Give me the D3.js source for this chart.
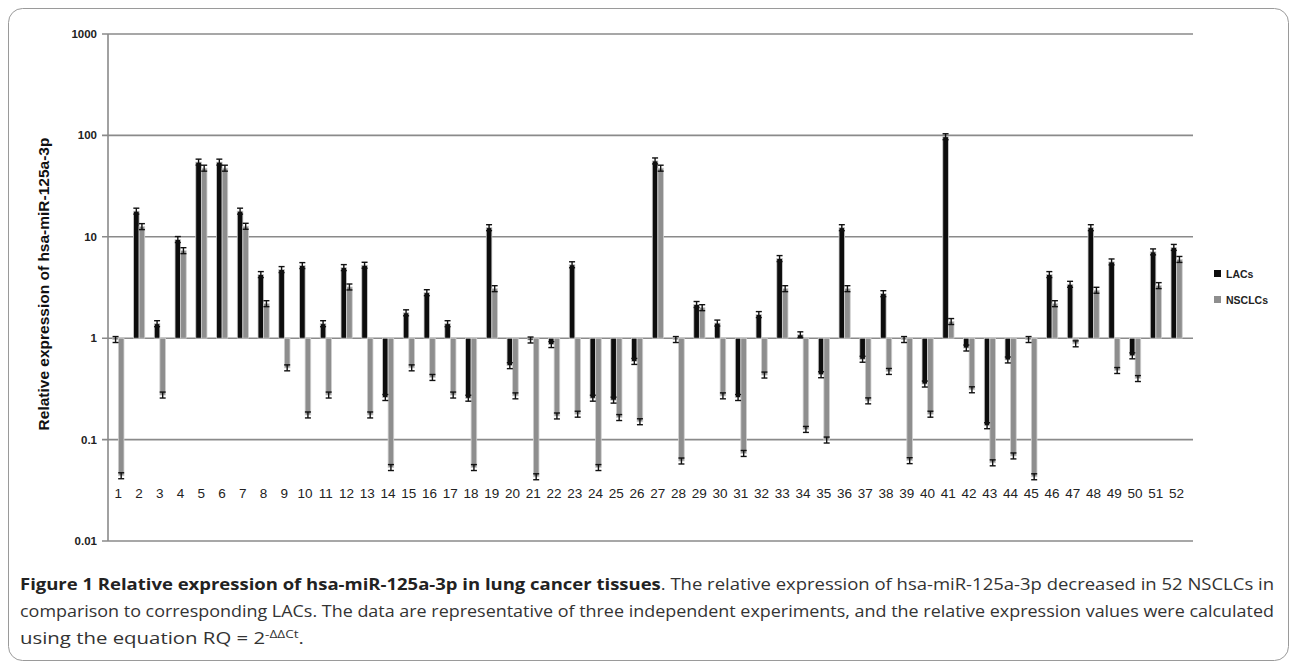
<!DOCTYPE html>
<html>
<head>
<meta charset="utf-8">
<script src="https://cdn.jsdelivr.net/npm/d3@7"></script>
<style>
  body { margin: 0; background: #fff; }
  svg { display: block; }
</style>
</head>
<body>
<svg id="chart" width="1292" height="666"></svg>
<script>
// values (relative expression, log scale)
const samples = d3.range(1, 53).map(String);
const seriesNames = ["LACs", "NSCLCs"];
const lacValues = [0.97, 17.9, 1.39, 9.4, 54.5, 54.5, 17.9, 4.24, 4.75, 5.2,
    1.39, 4.97, 5.24, 0.26, 1.78, 2.81, 1.39, 0.256, 12.3, 0.536,
    0.96, 0.865, 5.3, 0.256, 0.245, 0.59, 56, 0.97, 2.15, 1.41,
    0.26, 1.71, 6.1, 1.08, 0.436, 12.3, 0.62, 2.75, 0.97, 0.353,
    97, 0.80, 0.137, 0.61, 0.97, 4.24, 3.4, 12.3, 5.65, 0.67,
    7.1, 7.86];
const nsclcValues = [0.044, 12.6, 0.275, 7.3, 47.5, 47.5, 12.7, 2.19, 0.51, 0.175,
    0.275, 3.2, 0.175, 0.053, 0.51, 0.41, 0.275, 0.053, 3.08, 0.27,
    0.043, 0.171, 0.178, 0.053, 0.165, 0.15, 47.5, 0.0615, 2.0, 0.27,
    0.073, 0.433, 3.08, 0.126, 0.099, 3.08, 0.241, 0.47, 0.062, 0.178,
    1.46, 0.31, 0.059, 0.069, 0.043, 2.19, 0.88, 2.97, 0.48, 0.40,
    3.3, 5.98];
const yTicks = [0.01, 0.1, 1, 10, 100, 1000];
const relErr = 0.07; // error bars look like roughly +/-7%

const svg = d3.select("#chart");
const plot = { left: 108, right: 1187, top: 34, bottom: 541 };

const x = d3.scaleBand().domain(samples)
    .range([plot.left, plot.right])
    .paddingInner(0.46).paddingOuter(0.23);
const xSub = d3.scaleBand().domain(seriesNames).range([0, x.bandwidth()]);
const y = d3.scaleLog().domain([0.01, 1000]).range([plot.bottom, plot.top]);
const colors = { LACs: "#0d0d0d", NSCLCs: "#8e8e8e" };

// frame round the figure
svg.append("rect")
    .attr("x", 8.5).attr("y", 8.5)
    .attr("width", 1280).attr("height", 652)
    .attr("rx", 14)
    .attr("fill", "none").attr("stroke", "#9a9a9a").attr("stroke-width", 1);

// gridlines
svg.append("g").selectAll("line")
    .data(yTicks)
    .join("line")
    .attr("x1", plot.left - 6).attr("x2", plot.right + 6)
    .attr("y1", d => y(d)).attr("y2", d => y(d))
    .attr("stroke", "#8a8a8a").attr("stroke-width", 1.6);

svg.append("line")
    .attr("x1", plot.left).attr("x2", plot.left)
    .attr("y1", plot.top).attr("y2", plot.bottom)
    .attr("stroke", "#8a8a8a").attr("stroke-width", 1.6);

svg.append("g").selectAll("text")
    .data(yTicks)
    .join("text")
    .attr("x", 97).attr("y", d => y(d) + 4)
    .attr("text-anchor", "end")
    .attr("font-family", "Liberation Sans, Arial, sans-serif")
    .attr("font-weight", "bold").attr("font-size", 11.5)
    .attr("fill", "#222")
    .text(d => d);

svg.append("text")
    .attr("transform", "translate(49,284) rotate(-90)")
    .attr("text-anchor", "middle")
    .attr("font-family", "Liberation Sans, Arial, sans-serif")
    .attr("font-weight", "bold").attr("font-size", 15.5)
    .attr("fill", "#111")
    .text("Relative expression of hsa-miR-125a-3p");

// bars start at 1 and go up or down
const rows = samples.map((s, i) => ({
    sample: s,
    bars: [
        { key: "LACs", value: lacValues[i] },
        { key: "NSCLCs", value: nsclcValues[i] }
    ]
}));

const groups = svg.append("g").selectAll("g")
    .data(rows)
    .join("g")
    .attr("transform", d => `translate(${x(d.sample)},0)`);

groups.selectAll("rect")
    .data(d => d.bars)
    .join("rect")
    .attr("x", d => xSub(d.key))
    .attr("y", d => Math.min(y(d.value), y(1)))
    .attr("width", xSub.bandwidth())
    .attr("height", d => Math.abs(y(d.value) - y(1)))
    .attr("fill", d => colors[d.key])
    .attr("stroke", "#cfcfcf").attr("stroke-width", 0.8);

const err = groups.selectAll("g.err")
    .data(d => d.bars)
    .join("g")
    .attr("class", "err")
    .attr("transform", d => `translate(${xSub(d.key) + xSub.bandwidth() / 2},0)`);

err.append("line")
    .attr("y1", d => y(d.value * (1 + relErr)))
    .attr("y2", d => y(d.value / (1 + relErr)))
    .attr("stroke", "#111").attr("stroke-width", 1.4);
err.selectAll("line.cap")
    .data(d => [d.value * (1 + relErr), d.value / (1 + relErr)])
    .join("line")
    .attr("class", "cap")
    .attr("x1", -3).attr("x2", 3)
    .attr("y1", d => y(d)).attr("y2", d => y(d))
    .attr("stroke", "#111").attr("stroke-width", 1.4);

// sample numbers
svg.append("g").selectAll("text")
    .data(samples)
    .join("text")
    .attr("x", d => x(d) + x.bandwidth() / 2)
    .attr("y", 498)
    .attr("text-anchor", "middle")
    .attr("font-family", "Liberation Sans, Arial, sans-serif")
    .attr("font-size", 13.5)
    .attr("fill", "#222")
    .text(d => d);

// legend
const legend = svg.append("g").selectAll("g")
    .data(seriesNames)
    .join("g")
    .attr("transform", (d, i) => `translate(1214,${270 + i * 26})`);
legend.append("rect")
    .attr("width", 7).attr("height", 7)
    .attr("fill", d => colors[d]);
legend.append("text")
    .attr("x", 12).attr("y", 7.5)
    .attr("font-family", "Liberation Sans, Arial, sans-serif")
    .attr("font-weight", "bold").attr("font-size", 10.5)
    .attr("fill", "#222")
    .text(d => d);

// caption
const cap = svg.append("g")
    .attr("font-family", "Open Sans, sans-serif")
    .attr("font-size", 16.5)
    .attr("fill", "#333");

const line1 = cap.append("text").attr("x", 20).attr("y", 590)
    .attr("textLength", 1254).attr("lengthAdjust", "spacingAndGlyphs");
line1.append("tspan").attr("font-weight", "bold").attr("fill", "#222")
    .text("Figure 1 Relative expression of hsa-miR-125a-3p in lung cancer tissues");
line1.append("tspan")
    .text(". The relative expression of hsa-miR-125a-3p decreased in 52 NSCLCs in");

cap.append("text").attr("x", 20).attr("y", 617)
    .attr("textLength", 1254).attr("lengthAdjust", "spacingAndGlyphs")
    .text("comparison to corresponding LACs. The data are representative of three independent experiments, and the relative expression values were calculated");

const line3 = cap.append("text").attr("x", 20).attr("y", 644)
    .attr("textLength", 284).attr("lengthAdjust", "spacingAndGlyphs");
line3.append("tspan").text("using the equation RQ = 2");
line3.append("tspan").attr("font-size", 11).attr("dy", -6).text("-ΔΔCt");
line3.append("tspan").attr("dy", 6).text(".");
</script>
</body>
</html>
